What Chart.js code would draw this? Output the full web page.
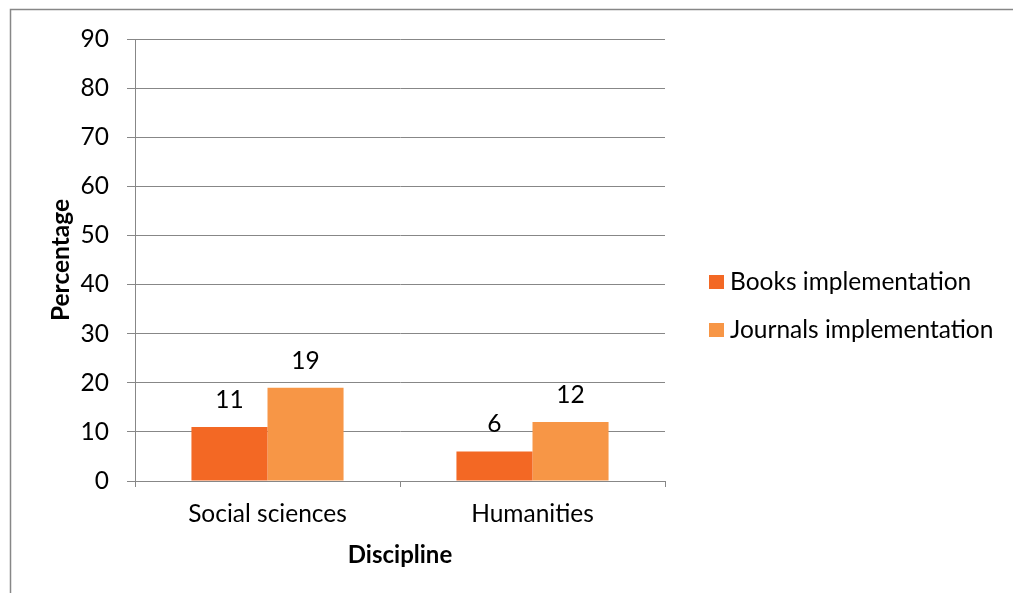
<!DOCTYPE html>
<html>
<head>
<meta charset="utf-8">
<script src="https://cdn.jsdelivr.net/npm/chart.js@4/dist/chart.umd.min.js"></script>
<style>
  html, body { margin: 0; padding: 0; background: #fff; }
  #wrap { width: 1013px; height: 593px; }
</style>
</head>
<body>
<div id="wrap"><canvas id="chart" width="1013" height="593"></canvas></div>
<script>
// Datos del gráfico
const disciplinas = ['Social sciences', 'Humanities'];
const libros = [11, 6];
const revistas = [19, 12];
const nombresSeries = ['Books implementation', 'Journals implementation'];
const coloresSeries = ['#F36824', '#F79646'];

const fuente = 'Lato, "Noto Sans", sans-serif';
const tamano = 24.5;
const gris = '#878787';

// Marco exterior y fondo blanco
const marcoPlugin = {
  id: 'marco',
  beforeDraw(chart) {
    const ctx = chart.ctx;
    ctx.save();
    ctx.fillStyle = '#fff';
    ctx.fillRect(0, 0, chart.width, chart.height);
    ctx.strokeStyle = gris;
    ctx.lineWidth = 1.5;
    ctx.strokeRect(10.5, 9.5, chart.width + 20, chart.height + 20);
    ctx.restore();
  }
};

// Etiquetas con el valor encima de cada barra
const etiquetasPlugin = {
  id: 'etiquetas',
  afterDatasetsDraw(chart) {
    const ctx = chart.ctx;
    ctx.save();
    ctx.font = tamano + 'px ' + fuente;
    ctx.fillStyle = '#000';
    ctx.textAlign = 'center';
    ctx.textBaseline = 'middle';
    chart.data.datasets.forEach((ds, i) => {
      chart.getDatasetMeta(i).data.forEach((barra, j) => {
        ctx.fillText(String(ds.data[j]), barra.x, barra.y - 27);
      });
    });
    ctx.restore();
  }
};

// Leyenda a la derecha
const leyendaPlugin = {
  id: 'leyenda',
  afterDraw(chart) {
    const ctx = chart.ctx;
    ctx.save();
    ctx.font = tamano + 'px ' + fuente;
    ctx.textBaseline = 'middle';
    chart.data.datasets.forEach((ds, i) => {
      const y = 282 + i * 48;
      ctx.fillStyle = ds.backgroundColor;
      ctx.fillRect(709, y - 7, 15, 14);
      ctx.fillStyle = '#000';
      ctx.fillText(ds.label, 730, y);
    });
    ctx.restore();
  }
};

const ctx = document.getElementById('chart').getContext('2d');
const chart = new Chart(ctx, {
  type: 'bar',
  data: {
    labels: disciplinas,
    datasets: [
      { label: nombresSeries[0], data: libros, backgroundColor: coloresSeries[0], borderWidth: 0 },
      { label: nombresSeries[1], data: revistas, backgroundColor: coloresSeries[1], borderWidth: 0 }
    ]
  },
  options: {
    responsive: false,
    animation: false,
    devicePixelRatio: 1,
    layout: { padding: { left: 0, top: 39, right: 348, bottom: 0 } },
    datasets: { bar: { categoryPercentage: 0.574, barPercentage: 1 } },
    plugins: {
      legend: { display: false },
      tooltip: { enabled: false }
    },
    scales: {
      x: {
        afterFit: (scale) => { scale.height = 112; },
        grid: { offset: true, drawOnChartArea: false, drawTicks: true, tickLength: 6, color: gris },
        border: { color: gris, width: 1 },
        ticks: { color: '#000', font: { family: fuente, size: tamano }, padding: 12 },
        title: {
          display: true, text: 'Discipline', color: '#000',
          font: { family: fuente, size: 24, weight: 'bold' },
          padding: { top: 0, bottom: 23 }
        }
      },
      y: {
        min: 0, max: 90,
        afterFit: (scale) => { scale.width = 135; },
        grid: { color: gris, tickLength: 8, drawTicks: true },
        border: { color: gris, width: 1 },
        ticks: { stepSize: 10, color: '#000', font: { family: fuente, size: tamano }, padding: 18 },
        title: {
          display: true, text: 'Percentage', color: '#000',
          font: { family: fuente, size: 24.5, weight: 'bold' },
          padding: { top: 46, bottom: 0 }
        }
      }
    }
  },
  plugins: [marcoPlugin, etiquetasPlugin, leyendaPlugin]
});
</script>
</body>
</html>
